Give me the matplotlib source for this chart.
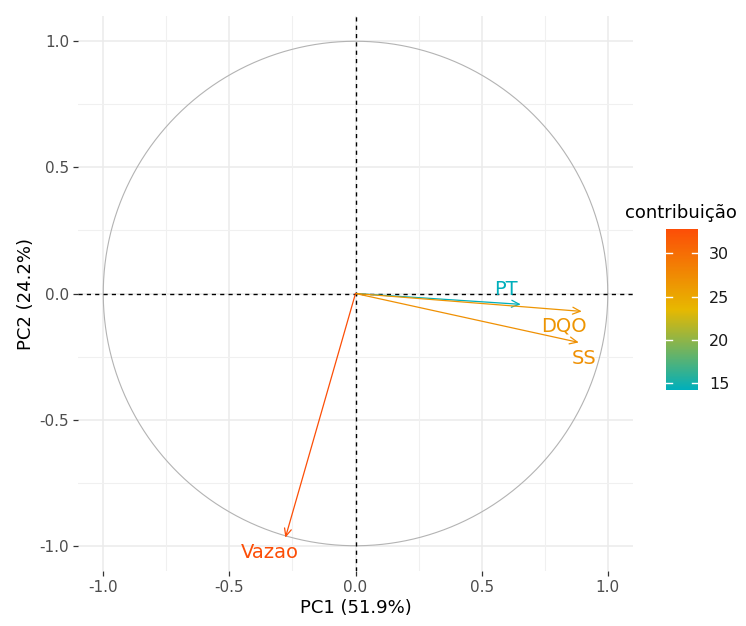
import numpy as np
import matplotlib
matplotlib.use("Agg")
import matplotlib.pyplot as plt
from matplotlib.colors import LinearSegmentedColormap, Normalize
from matplotlib.cm import ScalarMappable

# variable loadings on PC1 / PC2 and their contribution (%)
variables = ["PT", "DQO", "SS", "Vazao"]
pc1 = [0.655, 0.897, 0.885, -0.278]
pc2 = [-0.043, -0.071, -0.194, -0.968]
contrib = [14.2, 26.6, 27.0, 32.8]

pc1_label = "PC1 (51.9%)"
pc2_label = "PC2 (24.2%)"
legend_title = "contribuição"
ticks = [-1.0, -0.5, 0.0, 0.5, 1.0]
cbar_ticks = [15, 20, 25, 30]

# label offsets (repelled text) relative to arrow tips
label_offsets = {"PT": (-0.06, 0.058), "DQO": (-0.07, -0.13 + 0.071), "SS": (0.02, -0.065), "Vazao": (-0.06, -0.06)}

cmap = LinearSegmentedColormap.from_list("contrib", ["#00AFBB", "#E7B800", "#FC4E07"])
norm = Normalize(vmin=min(contrib), vmax=max(contrib))

fig = plt.figure(figsize=(7.46, 6.26), dpi=100)
ax = fig.add_axes([0.1046, 0.0863, 0.7439, 0.8897])
ax.set_xlim(-1.1, 1.1)
ax.set_ylim(-1.1, 1.1)
ax.set_aspect("equal", adjustable="box")

# grid
for v in ticks:
    ax.axvline(v, color="#EBEBEB", lw=1.1, zorder=0)
    ax.axhline(v, color="#EBEBEB", lw=1.1, zorder=0)
for v in [-0.75, -0.25, 0.25, 0.75]:
    ax.axvline(v, color="#F0F0F0", lw=0.8, zorder=0)
    ax.axhline(v, color="#F0F0F0", lw=0.8, zorder=0)

# correlation circle
theta = np.linspace(0, 2 * np.pi, 400)
ax.plot(np.cos(theta), np.sin(theta), color="#B3B3B3", lw=0.8, zorder=1)

ax.axhline(0, color="black", lw=1.0, ls=(0, (3, 3)), zorder=2)
ax.axvline(0, color="black", lw=1.0, ls=(0, (3, 3)), zorder=2)

for name, x, y, c in zip(variables, pc1, pc2, contrib):
    col = cmap(norm(c))
    ax.annotate("", xy=(x, y), xytext=(0, 0),
                arrowprops=dict(arrowstyle="->,head_length=0.55,head_width=0.25",
                                color=col, lw=0.9, shrinkA=0, shrinkB=0), zorder=3)
    dx, dy = label_offsets[name]
    ax.text(x + dx, y + dy, name, color=col, fontsize=14, ha="center", va="center", zorder=4)

for s in ax.spines.values():
    s.set_visible(False)
ax.set_xticks(ticks)
ax.set_yticks(ticks)
ax.set_xticklabels([f"{t:.1f}" for t in ticks])
ax.set_yticklabels([f"{t:.1f}" for t in ticks])
ax.tick_params(length=3.5, width=0.9, color="#333333", labelcolor="#4D4D4D", labelsize=11, pad=3)
ax.set_xlabel(pc1_label, fontsize=13, color="black", labelpad=3)
ax.set_ylabel(pc2_label, fontsize=13, color="black", labelpad=3)

# colour bar legend
cax = fig.add_axes([0.8928, 0.377, 0.0429, 0.257])
sm = ScalarMappable(norm=norm, cmap=cmap)
cb = fig.colorbar(sm, cax=cax, ticks=cbar_ticks)
cb.outline.set_visible(False)
cax.tick_params(length=0, labelsize=11.5, labelcolor="#1A1A1A", pad=8)
for t in cbar_ticks:
    cax.plot([0, 0.18], [t, t], color="white", lw=1, transform=cax.get_yaxis_transform())
    cax.plot([0.82, 1], [t, t], color="white", lw=1, transform=cax.get_yaxis_transform())
fig.text(0.913, 0.66, legend_title, fontsize=13, ha="center", va="center")

fig.savefig("out.png", dpi=100)
